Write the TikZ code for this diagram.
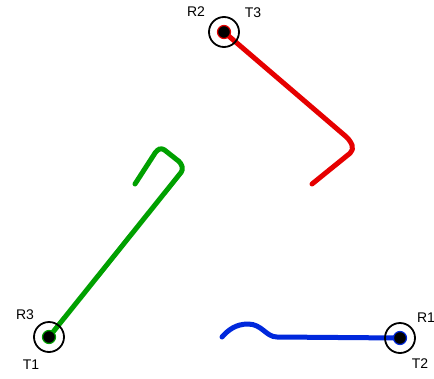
\documentclass[tikz,border=0pt]{standalone}
\usepackage{fontspec}
\setmainfont{Liberation Sans}
\definecolor{rred}{RGB}{230,0,0}
\definecolor{ggreen}{RGB}{0,160,0}
\definecolor{bblue}{RGB}{0,40,220}
\begin{document}
\begin{tikzpicture}[x=1pt,y=-1pt,
  ring/.style={circle,draw=black,line width=1.8pt,minimum size=30pt,inner sep=0pt},
  dot/.style={circle,fill=black,draw=#1,line width=1.2pt,minimum size=13pt,inner sep=0pt},
  trail/.style={draw=#1,line width=5pt,line cap=round,line join=round},
  lbl/.style={font=\fontsize{14}{14}\selectfont,inner sep=0pt}]
\useasboundingbox (0,0) rectangle (434,378);
% positions
\coordinate (cR) at (224,32);
\coordinate (cG) at (49,337);
\coordinate (cB) at (400,338);
% red path
\coordinate (r1) at (350,140);
\coordinate (r2) at (354,150);
\coordinate (r3) at (312,184);
\draw[trail=rred,rounded corners=5pt] (cR) -- (r1) -- (r2) -- (r3);
% green path
\coordinate (g1) at (183,170);
\coordinate (g2) at (181,163);
\coordinate (g3) at (162,148);
\coordinate (g4) at (157,150);
\coordinate (g5) at (135,184);
\draw[trail=ggreen,rounded corners=3pt] (cG) -- (g1) -- (g2) -- (g3) -- (g4) -- (g5);
% blue path
\coordinate (b1) at (277,337);
\coordinate (b2) at (222,337);
\draw[trail=bblue] (cB) -- (b1) .. controls (266,337) and (262,324) .. (248,324) .. controls (236,324) and (228,330) .. (b2);
% circles
\node[ring] (ringR) at (cR) {};
\node[dot=rred] (dotR) at (cR) {};
\node[ring] (ringG) at (cG) {};
\node[dot=ggreen] (dotG) at (cG) {};
\node[ring] (ringB) at (cB) {};
\node[dot=bblue] (dotB) at (cB) {};
% labels
\node[lbl] (R2) at (196,12) {R2};
\node[lbl] (T3) at (253,13) {T3};
\node[lbl] (R3) at (25,315) {R3};
\node[lbl] (T1) at (31,365) {T1};
\node[lbl] (R1) at (426,318) {R1};
\node[lbl] (T2) at (420,364) {T2};
\end{tikzpicture}
\end{document}
